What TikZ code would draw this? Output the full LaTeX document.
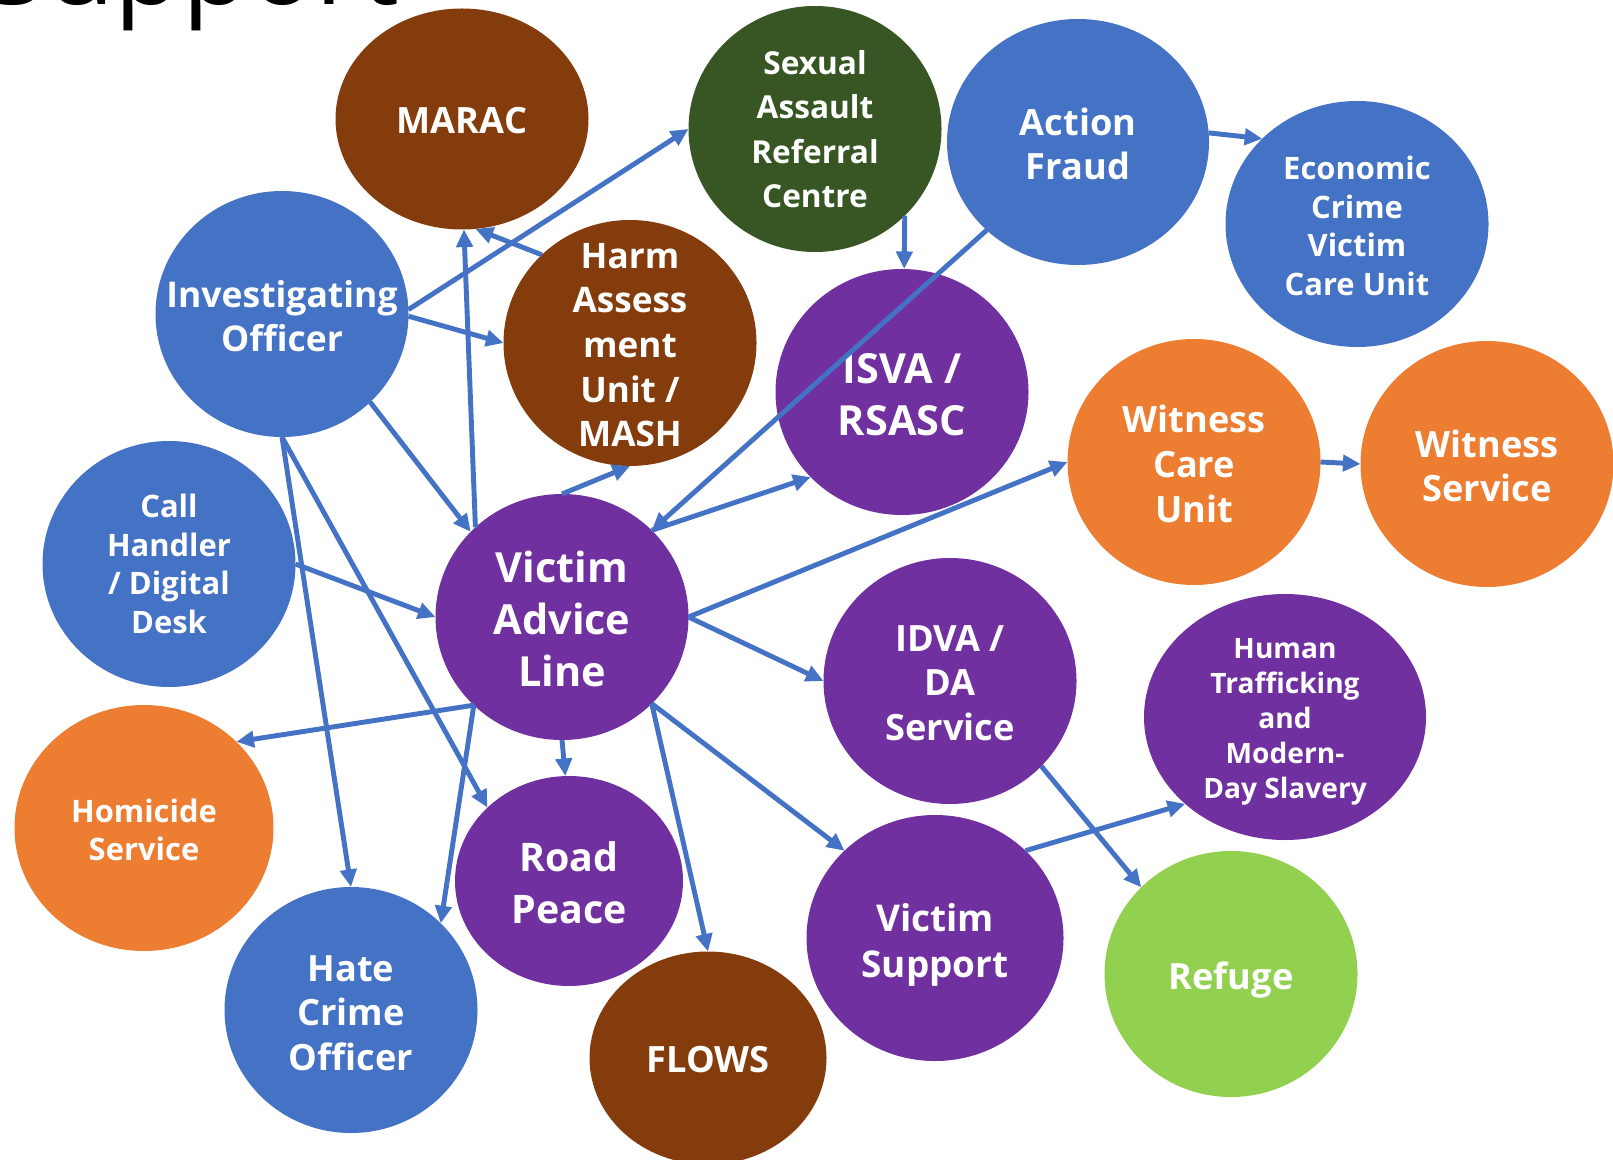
\documentclass[tikz,border=0pt]{standalone}
\usepackage{fontspec}
\setmainfont{Open Sans}
\usepackage{tikz}
\usetikzlibrary{shapes.geometric, arrows.meta}

\definecolor{ablue}{HTML}{4472C4}
\definecolor{aorange}{HTML}{ED7D31}
\definecolor{apurple}{HTML}{7030A0}
\definecolor{abrown}{HTML}{843C0C}
\definecolor{adkgreen}{HTML}{375623}
\definecolor{altgreen}{HTML}{92D050}

\begin{document}
\begin{tikzpicture}[x=0.1mm, y=-0.1mm,
    bubble/.style={ellipse, minimum width=25.3mm, minimum height=24.6mm, inner sep=0pt, outer sep=0pt},
    words/.style={align=center, text=white, yshift=-0.2mm, font=\bfseries\fontsize{10.3}{12.7}\selectfont},
    bigwords/.style={words, font=\bfseries\fontsize{11.8}{14.7}\selectfont},
    smallwords/.style={words, font=\bfseries\fontsize{8.8}{11}\selectfont},
    link/.style={ablue, line width=1.4pt, -{Triangle[length=5pt, width=4.6pt]}}
]
\useasboundingbox (0,0) rectangle (1613,1160);
\clip (0,0) rectangle (1613,1160);

\node[anchor=base west, inner sep=0pt, font=\fontsize{31.3}{36}\selectfont] (title) at (-14,5) {Support};

\node[bubble, fill=abrown, minimum height=22.1mm, label={[words]center:MARAC}] (marac) at (462,119) {};
\node[bubble, fill=adkgreen, label={[words, yshift=0.2mm, font=\bfseries\fontsize{9}{12.6}\selectfont]center:Sexual\\Assault\\Referral\\Centre}] (sarc) at (815,129) {};
\node[bubble, fill=ablue, minimum width=26.2mm, label={[words]center:Action\\Fraud}] (fraud) at (1078,142) {};
\node[bubble, fill=ablue, minimum width=26.3mm, label={[smallwords]center:Economic\\Crime\\Victim\\Care Unit}] (ecvcu) at (1357,224) {};
\node[bubble, fill=ablue, label={[words, font=\bfseries\fontsize{10.1}{12.6}\selectfont]center:Investigating\\Officer}] (io) at (282,314) {};
\node[bubble, fill=abrown, label={[words, font=\bfseries\fontsize{10}{12.7}\selectfont]center:Harm\\Assess\\ment\\Unit /\\MASH}] (hau) at (630,343) {};
\node[bubble, fill=apurple, label={[bigwords, yshift=-0.1mm]center:ISVA /\\RSASC}] (isva) at (902,392) {};
\node[bubble, fill=aorange, label={[words]center:Witness\\Care\\Unit}] (wcu) at (1194,462) {};
\node[bubble, fill=aorange, label={[words]center:Witness\\Service}] (ws) at (1487,464) {};
\node[bubble, fill=ablue, label={[smallwords, yshift=0.2mm]center:Call\\Handler\\/ Digital\\Desk}] (call) at (169,564) {};
\node[bubble, fill=apurple, label={[bigwords]center:Victim\\Advice\\Line}] (val) at (562,617) {};
\node[bubble, fill=apurple, label={[words]center:IDVA /\\DA\\Service}] (idva) at (950,681) {};
\node[bubble, fill=apurple, minimum width=28.2mm, label={[words, yshift=-0.3mm, font=\bfseries\fontsize{8}{10}\selectfont]center:Human\\Trafficking\\and\\Modern-\\Day Slavery}] (htms) at (1285,717) {};
\node[bubble, fill=aorange, minimum width=25.9mm, label={[smallwords]center:Homicide\\Service}] (homicide) at (144,828) {};
\node[bubble, fill=apurple, minimum width=22.8mm, minimum height=21mm, label={[bigwords, font=\bfseries\fontsize{11.2}{14.9}\selectfont]center:Road\\Peace}] (road) at (569,881) {};
\node[bubble, fill=apurple, minimum width=25.7mm, label={[words, yshift=-0.5mm, font=\bfseries\fontsize{10.5}{12.9}\selectfont]center:Victim\\Support}] (vs) at (935,938) {};
\node[bubble, fill=altgreen, label={[words, yshift=-0.4mm]center:Refuge}] (refuge) at (1231,974) {};
\node[bubble, fill=ablue, label={[words, yshift=-0.1mm]center:Hate\\Crime\\Officer}] (hco) at (351,1010) {};
\node[bubble, fill=abrown, minimum width=23.7mm, minimum height=21.3mm, label={[words]center:FLOWS}] (flows) at (708,1058) {};

\draw[link] (io.2) -- (sarc.180);
\draw[link] (io.359) -- (hau.180);
\draw[link] (hau.135) -- (marac.277);
\draw[link] (val.134) -- (marac.271);
\draw[link] (io.315) -- (val.137);
\draw[link] (val.90) -- (hau.270);
\draw[link] (sarc.316) -- (isva.89);
\draw[link] (fraud.224) -- (val.44);
\draw[link] (val.44) -- (isva.223);
\draw[link] (fraud.4) -- (ecvcu.138);
\draw[link] (val.0) -- (wcu.180);
\draw[link] (wcu.0) -- (ws.180);
\draw[link] (call.0) -- (val.180);
\draw[link] (val.0) -- (idva.180);
\draw[link] (val.225) -- (homicide.43);
\draw[link] (io.270) -- (hco.90);
\draw[link] (io.270) -- (road.138);
\draw[link] (val.225) -- (hco.44);
\draw[link] (val.270) -- (road.92);
\draw[link] (val.316) -- (flows.90);
\draw[link] (val.316) -- (vs.136);
\draw[link] (idva.317) -- (refuge.136);
\draw[link] (vs.44) -- (htms.221);
\end{tikzpicture}
\end{document}
